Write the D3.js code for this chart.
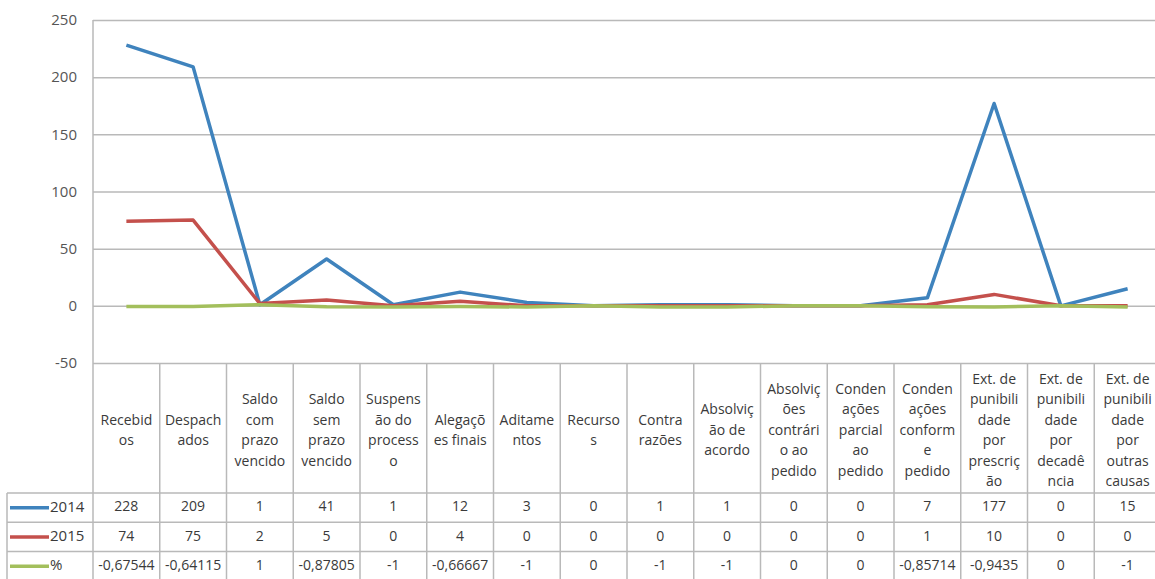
<!DOCTYPE html>
<html>
<head>
<meta charset="utf-8">
<script src="https://cdn.jsdelivr.net/npm/d3@7"></script>
<style>
    body { margin: 0; background: #fff; }
    svg text { font-family: "Open Sans", "Liberation Sans", sans-serif; }
</style>
</head>
<body>
<svg id="chart" width="1155" height="579"></svg>
<script>
// categories as they wrap in the table header
const categories = [
    ['Recebid', 'os'],
    ['Despach', 'ados'],
    ['Saldo', 'com', 'prazo', 'vencido'],
    ['Saldo', 'sem', 'prazo', 'vencido'],
    ['Suspens', 'ão do', 'process', 'o'],
    ['Alegaçõ', 'es finais'],
    ['Aditame', 'ntos'],
    ['Recurso', 's'],
    ['Contra', 'razões'],
    ['Absolviç', 'ão de', 'acordo'],
    ['Absolviç', 'ões', 'contrári', 'o ao', 'pedido'],
    ['Conden', 'ações', 'parcial', 'ao', 'pedido'],
    ['Conden', 'ações', 'conform', 'e', 'pedido'],
    ['Ext. de', 'punibili', 'dade', 'por', 'prescriç', 'ão'],
    ['Ext. de', 'punibili', 'dade', 'por', 'decadê', 'ncia'],
    ['Ext. de', 'punibili', 'dade', 'por', 'outras', 'causas']
];

const values2014 = [228, 209, 1, 41, 1, 12, 3, 0, 1, 1, 0, 0, 7, 177, 0, 15];
const values2015 = [74, 75, 2, 5, 0, 4, 0, 0, 0, 0, 0, 0, 1, 10, 0, 0];
const valuesPct = [-0.67544, -0.64115, 1, -0.87805, -1, -0.66667, -1, 0, -1, -1, 0, 0, -0.85714, -0.9435, 0, -1];

const yTicks = [-50, 0, 50, 100, 150, 200, 250];

const series = [
    { name: '2014', values: values2014, color: '#3f83bd' },
    { name: '2015', values: values2015, color: '#c4504c' },
    { name: '%', values: valuesPct, color: '#a3bf5c' }
];

const svg = d3.select('#chart');

let plotLeft = 93,
    colW = 66.75,
    plotTop = 20,
    plotBottom = 363,
    headerBottom = 493,
    rowH = 29.3,
    gridColor = '#b9b9b9',
    textColor = '#3a3a3a';

let x = d3.scaleBand()
    .domain(d3.range(categories.length))
    .range([plotLeft, plotLeft + colW * categories.length])
    .padding(0);

let y = d3.scaleLinear()
    .domain([-50, 250])
    .range([plotBottom, plotTop]);

// gridlines + tick labels
let yAxis = svg.append('g')
    .attr('transform', `translate(${plotLeft},0)`)
    .call(d3.axisLeft(y)
        .tickValues(yTicks)
        .tickSize(-(1155 - plotLeft))
        .tickPadding(16)
        .tickFormat(d => d));

yAxis.select('.domain').remove();
yAxis.selectAll('.tick line')
    .attr('stroke', gridColor)
    .attr('stroke-width', 1.5);
yAxis.selectAll('.tick text')
    .attr('fill', '#555')
    .attr('font-size', 15);

// left axis line
svg.append('line')
    .attr('x1', plotLeft).attr('x2', plotLeft)
    .attr('y1', y(250)).attr('y2', y(-50))
    .attr('stroke', gridColor)
    .attr('stroke-width', 1.5);

// data table
let table = svg.append('g');
let tableBottom = 590;

// vertical separators
d3.range(categories.length + 1).forEach(function(i) {
    let xx = plotLeft + i * x.bandwidth();
    table.append('line')
        .attr('x1', xx).attr('x2', xx)
        .attr('y1', plotBottom).attr('y2', tableBottom)
        .attr('stroke', gridColor)
        .attr('stroke-width', 1.5);
});

// legend column box
table.append('line')
    .attr('x1', 7).attr('x2', 7)
    .attr('y1', headerBottom).attr('y2', tableBottom)
    .attr('stroke', gridColor)
    .attr('stroke-width', 1.5);

// row separators
[0, 1, 2].forEach(function(r) {
    table.append('line')
        .attr('x1', 7).attr('x2', 1155)
        .attr('y1', headerBottom + r * rowH)
        .attr('y2', headerBottom + r * rowH)
        .attr('stroke', gridColor)
        .attr('stroke-width', 1.5);
});

// header labels
let lineH = 20.5,
    headerMid = (plotBottom + headerBottom) / 2 + 3;

categories.forEach(function(lines, i) {
    let t = table.append('text')
        .attr('text-anchor', 'middle')
        .attr('font-size', 14)
        .attr('fill', textColor);
    let startY = headerMid - (lines.length - 1) * lineH / 2;
    lines.forEach(function(l, k) {
        t.append('tspan')
            .attr('x', x(i) + x.bandwidth() / 2)
            .attr('y', startY + k * lineH)
            .attr('dominant-baseline', 'middle')
            .text(l);
    });
});

// data rows with legend keys
function fmt(v) {
    return String(v).replace('.', ',');
}

series.forEach(function(s, r) {
    let cy = headerBottom + r * rowH + rowH / 2;

    table.append('line')
        .attr('x1', 10).attr('x2', 49)
        .attr('y1', cy).attr('y2', cy)
        .attr('stroke', s.color)
        .attr('stroke-width', 3.5);

    table.append('text')
        .attr('x', 50).attr('y', cy)
        .attr('dominant-baseline', 'middle')
        .attr('font-size', 15)
        .attr('fill', textColor)
        .text(s.name);

    s.values.forEach(function(v, i) {
        table.append('text')
            .attr('x', x(i) + x.bandwidth() / 2)
            .attr('y', cy)
            .attr('text-anchor', 'middle')
            .attr('dominant-baseline', 'middle')
            .attr('font-size', 14)
            .attr('fill', textColor)
            .text(fmt(v));
    });
});

// lines
let line = d3.line()
    .x((d, i) => x(i) + x.bandwidth() / 2)
    .y(d => y(d));

series.forEach(function(s) {
    svg.append('path')
        .attr('d', line(s.values))
        .attr('fill', 'none')
        .attr('stroke', s.color)
        .attr('stroke-width', 3.5)
        .attr('stroke-linejoin', 'round');
});
</script>
</body>
</html>
